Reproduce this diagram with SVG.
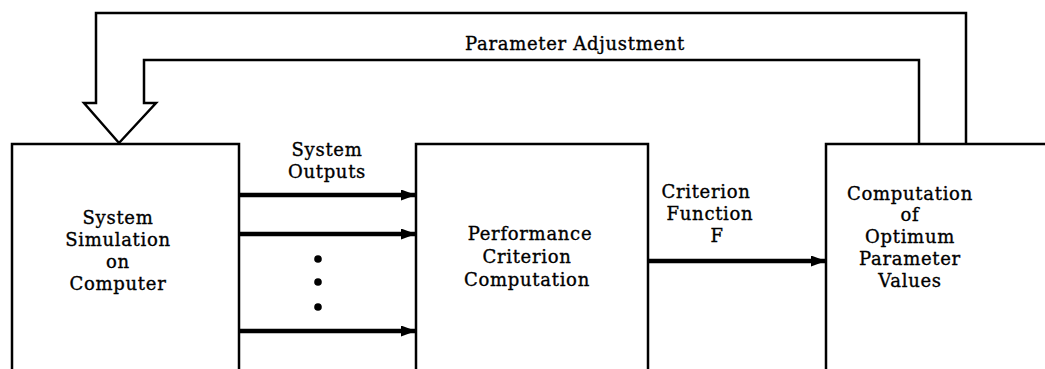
<svg xmlns="http://www.w3.org/2000/svg" width="1045" height="369" viewBox="0 0 1045 369">
<style>
.box{fill:#fff;stroke:#000;stroke-width:2.5}
.ln{fill:none;stroke:#000;stroke-width:2.5}
.ar{fill:none;stroke:#000;stroke-width:4.5}
.t{font-family:"DejaVu Serif","Liberation Serif",serif;font-size:18px;letter-spacing:0.7px;fill:#000;stroke:#000;stroke-width:0.35;text-anchor:middle}
</style>
<defs>
<marker id="ah" viewBox="0 0 15 11" refX="14" refY="5.5" markerWidth="15" markerHeight="11" markerUnits="userSpaceOnUse" orient="auto">
<path d="M0,0 L15,5.5 L0,11 z" fill="#000"/>
</marker>
</defs>
<rect width="1045" height="369" fill="#fff"/>
<g id="node-sim">
<rect class="box" x="12" y="144" width="227" height="240"/>
<text class="t" x="118" y="224">System</text>
<text class="t" x="118" y="246">Simulation</text>
<text class="t" x="118" y="268">on</text>
<text class="t" x="118" y="290">Computer</text>
</g>
<g id="node-perf">
<rect class="box" x="416" y="144" width="232" height="240"/>
<text class="t" x="530" y="240">Performance</text>
<text class="t" x="527" y="263">Criterion</text>
<text class="t" x="527" y="286">Computation</text>
</g>
<g id="node-opt">
<rect class="box" x="826" y="144" width="240" height="240"/>
<text class="t" x="910" y="200">Computation</text>
<text class="t" x="910" y="221">of</text>
<text class="t" x="910" y="243">Optimum</text>
<text class="t" x="910" y="265">Parameter</text>
<text class="t" x="910" y="287">Values</text>
</g>
<g id="connectors">
<path class="ln" d="M919,144 V60 H144 V103 H156 L119,143 L84,103 H96 V13 H966 V144"/>
<text class="t" x="575" y="50">Parameter Adjustment</text>
<line class="ar" x1="239" y1="195" x2="415" y2="195" marker-end="url(#ah)"/>
<line class="ar" x1="239" y1="234" x2="415" y2="234" marker-end="url(#ah)"/>
<line class="ar" x1="239" y1="331" x2="415" y2="331" marker-end="url(#ah)"/>
<circle cx="318" cy="259" r="3.8" fill="#000"/>
<circle cx="318" cy="282" r="3.8" fill="#000"/>
<circle cx="318" cy="307" r="3.8" fill="#000"/>
<text class="t" x="327" y="156">System</text>
<text class="t" x="327" y="178">Outputs</text>
<line class="ar" x1="648" y1="261" x2="825" y2="261" marker-end="url(#ah)"/>
<text class="t" x="706" y="198">Criterion</text>
<text class="t" x="710" y="220">Function</text>
<text class="t" x="717" y="242">F</text>
</g>
</svg>
